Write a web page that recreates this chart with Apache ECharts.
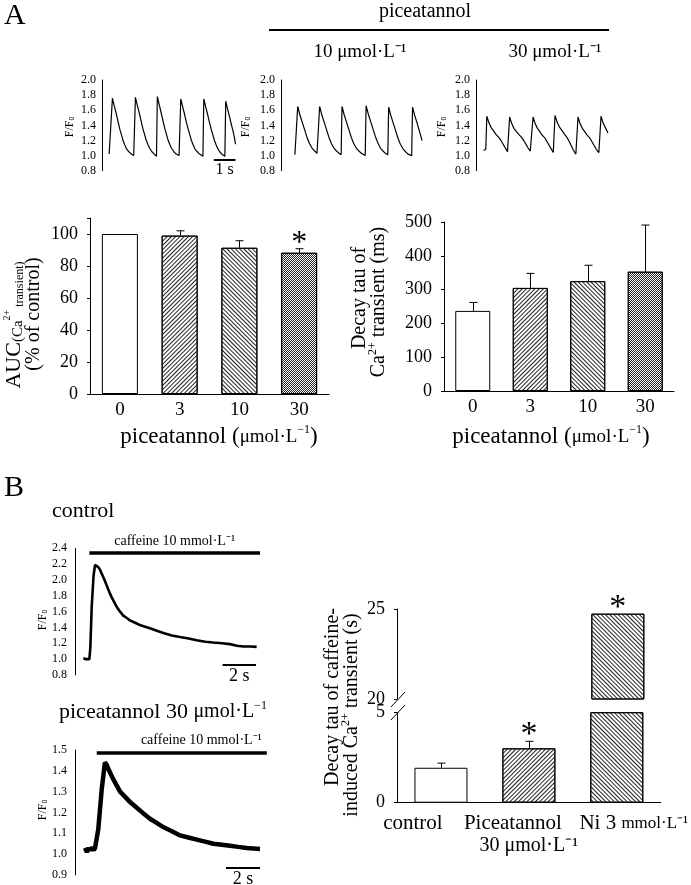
<!DOCTYPE html>
<html>
<head>
<meta charset="utf-8">
<script src="https://cdn.jsdelivr.net/npm/echarts@6/dist/echarts.min.js"></script>
<style>
html, body { margin: 0; padding: 0; background: #fff; }
#chart { width: 691px; height: 885px; }
</style>
</head>
<body>
<div id="chart"></div>
<script>
// spontaneous Ca2+ transients, [time (s) from y axis, F/F0]
var traceCtrl = [[0.33,1.02],[0.37,1.01],[0.42,1.02],
	[0.48,1.76],[0.57,1.65],[0.66,1.55],[0.74,1.45],[0.82,1.35],[0.90,1.27],[0.97,1.20],[1.05,1.14],[1.13,1.09],[1.24,1.05],[1.35,1.02],[1.46,1.00],[1.50,1.00],
	[1.54,1.77],[1.63,1.66],[1.72,1.56],[1.80,1.46],[1.88,1.36],[1.96,1.28],[2.03,1.21],[2.11,1.15],[2.19,1.10],[2.30,1.05],[2.41,1.02],[2.51,0.99],
	[2.55,1.78],[2.64,1.67],[2.73,1.56],[2.81,1.46],[2.89,1.36],[2.97,1.28],[3.04,1.21],[3.12,1.15],[3.20,1.10],[3.31,1.05],[3.42,1.02],[3.55,1.00],[3.59,0.99],
	[3.63,1.75],[3.72,1.64],[3.81,1.54],[3.89,1.44],[3.97,1.35],[4.05,1.27],[4.12,1.20],[4.20,1.14],[4.28,1.09],[4.39,1.05],[4.50,1.02],[4.65,0.99],
	[4.69,1.75],[4.78,1.64],[4.87,1.54],[4.95,1.44],[5.03,1.35],[5.11,1.27],[5.18,1.20],[5.26,1.14],[5.34,1.09],[5.45,1.04],[5.56,1.01],[5.66,0.99],
	[5.70,1.72],[5.79,1.61],[5.88,1.51],[5.96,1.41],[6.04,1.32],[6.10,1.24],[6.15,1.15]];
var trace10 = [[0.64,1.01],[0.70,1.01],[0.73,1.02],
	[0.77,1.65],[0.87,1.54],[0.97,1.45],[1.08,1.35],[1.20,1.24],[1.31,1.16],[1.43,1.10],[1.55,1.06],[1.66,1.03],[1.74,1.01],
	[1.78,1.65],[1.88,1.54],[1.98,1.45],[2.09,1.35],[2.21,1.24],[2.32,1.16],[2.44,1.10],[2.56,1.06],[2.67,1.03],[2.77,1.01],
	[2.81,1.65],[2.91,1.54],[3.01,1.45],[3.12,1.35],[3.24,1.24],[3.35,1.16],[3.47,1.10],[3.59,1.06],[3.70,1.03],[3.88,1.00],
	[3.92,1.66],[4.02,1.55],[4.12,1.46],[4.23,1.36],[4.35,1.25],[4.46,1.17],[4.58,1.10],[4.70,1.06],[4.81,1.03],[4.92,1.01],
	[4.96,1.64],[5.06,1.53],[5.16,1.44],[5.27,1.34],[5.39,1.23],[5.50,1.15],[5.62,1.09],[5.74,1.05],[5.85,1.02],[6.02,1.00],
	[6.06,1.64],[6.16,1.53],[6.26,1.44],[6.37,1.33],[6.50,1.20]];
var trace30 = [[0.34,1.07],[0.40,1.06],[0.45,1.08],
	[0.50,1.52],[0.60,1.43],[0.70,1.37],[0.80,1.33],[0.92,1.28],[1.05,1.24],[1.15,1.20],[1.25,1.15],[1.35,1.10],[1.45,1.05],[1.51,1.04],
	[1.55,1.51],[1.65,1.42],[1.75,1.36],[1.85,1.32],[1.97,1.28],[2.10,1.24],[2.20,1.20],[2.30,1.15],[2.40,1.10],[2.50,1.06],[2.59,1.04],
	[2.63,1.51],[2.73,1.42],[2.83,1.36],[2.93,1.32],[3.05,1.27],[3.18,1.23],[3.28,1.18],[3.38,1.13],[3.48,1.08],[3.56,1.04],[3.60,1.03],
	[3.64,1.53],[3.74,1.44],[3.84,1.38],[3.94,1.34],[4.06,1.29],[4.19,1.24],[4.29,1.19],[4.39,1.13],[4.49,1.07],[4.60,1.02],[4.66,1.02],
	[4.70,1.51],[4.80,1.42],[4.90,1.36],[5.00,1.32],[5.12,1.27],[5.25,1.23],[5.35,1.18],[5.45,1.13],[5.55,1.08],[5.66,1.04],[5.72,1.03],
	[5.76,1.52],[5.86,1.43],[5.96,1.37],[6.08,1.30]];

// AUC and decay tau, piceatannol dose
var doses = ['0', '3', '10', '30'];
var aucMean = [100, 99, 91.4, 88.3];
var aucErr = [0, 3, 4.4, 2.5];
var tauMean = [237, 305, 325, 353];
var tauErr = [25, 43, 47, 138];
var aucSig = [false, false, false, true];

// caffeine-induced transients
var caffCtrl = [[0.50,1.01],[0.58,0.99],[0.66,1.00],[0.76,0.99],[0.86,1.00],[0.92,1.15],[1.00,1.66],[1.11,2.05],[1.20,2.19],[1.30,2.17],[1.40,2.16],[1.50,2.13],[1.60,2.08],[1.75,2.01],[1.90,1.93],[2.05,1.85],[2.20,1.78],[2.35,1.72],[2.50,1.66],[2.70,1.60],[2.89,1.55],[3.10,1.52],[3.29,1.49],[3.60,1.46],[3.89,1.43],[4.20,1.41],[4.49,1.39],[4.90,1.36],[5.29,1.33],[5.80,1.30],[6.29,1.28],[6.80,1.26],[7.29,1.24],[7.80,1.22],[8.28,1.21],[8.80,1.20],[9.28,1.19],[9.70,1.17],[10.08,1.16],[10.50,1.16],[10.88,1.155]];
var caffPic = [[0.59,1.03],[0.70,1.01],[0.80,1.03],[0.88,1.02],[1.00,1.03],[1.10,1.02],[1.18,1.03],[1.37,1.12],[1.57,1.31],[1.76,1.44],[1.86,1.43],[1.96,1.41],[2.10,1.385],[2.25,1.36],[2.45,1.33],[2.65,1.30],[2.95,1.275],[3.24,1.25],[3.53,1.23],[3.82,1.21],[4.10,1.19],[4.41,1.17],[4.80,1.15],[5.19,1.13],[5.70,1.11],[6.18,1.09],[6.67,1.08],[7.16,1.07],[7.65,1.06],[8.14,1.05],[8.63,1.045],[9.12,1.04],[9.60,1.035],[10.10,1.03],[10.88,1.025]];
var caffGroups = ['control', 'Piceatannol 30 μmol·L⁻¹', 'Ni 3 mmol·L⁻¹'];
var caffTau = [1.94, 3.02, 24.74];
var caffErr = [0.26, 0.39, 0];
var caffSig = [false, true, true];

var FONT = 'Liberation Serif';
var chart = echarts.init(document.getElementById('chart'));

var plain = {color: '#fff', borderColor: '#000', borderWidth: 1};
var slash = {color: '#fff', borderColor: '#000', borderWidth: 1,
	decal: {symbol: 'rect', symbolSize: 1, color: '#222', dashArrayX: [1, 0], dashArrayY: [1, 2], rotation: -Math.PI / 4}};
var back = {color: '#fff', borderColor: '#000', borderWidth: 1,
	decal: {symbol: 'rect', symbolSize: 1, color: '#222', dashArrayX: [1, 0], dashArrayY: [1, 2], rotation: Math.PI / 4}};
var check = {color: '#fff', borderColor: '#000', borderWidth: 1,
	decal: {symbol: 'rect', symbolSize: 1, color: '#222', dashArrayX: [[1, 1], [0, 1, 1, 0]], dashArrayY: [1, 0], rotation: 0}};
var aucStyles = [plain, slash, back, check];
var caffStyles = [plain, slash, back];

function traceX(i, max) {
	return {gridIndex: i, type: 'value', min: 0, max: max, show: false};
}
function traceY(i, min, max, step) {
	return {
		gridIndex: i, type: 'value', min: min, max: max, interval: step,
		axisLine: {show: true, lineStyle: {color: '#000', width: 1}},
		axisTick: {show: false}, splitLine: {show: false},
		axisLabel: {fontFamily: FONT, fontSize: 12, color: '#000', margin: 6,
			formatter: function (v) { return v.toFixed(1); }}
	};
}
function catX(i, data, show) {
	return {
		gridIndex: i, type: 'category', data: data, show: show,
		axisLine: {lineStyle: {color: '#000', width: 1}},
		axisTick: {alignWithLabel: true, length: 4, lineStyle: {color: '#000'}},
		axisLabel: {fontFamily: FONT, fontSize: 19, color: '#000', margin: 7, interval: 0}
	};
}
function valY(i, min, max, step, hideAbove) {
	return {
		gridIndex: i, type: 'value', min: min, max: max, interval: step,
		axisLine: {show: true, lineStyle: {color: '#000', width: 1}},
		axisTick: {show: true, length: 3, lineStyle: {color: '#000'}},
		splitLine: {show: false},
		axisLabel: {fontFamily: FONT, fontSize: 18, color: '#000', margin: 12,
			formatter: function (v) { return v > hideAbove ? '' : String(v); }}
	};
}

function errBar(params, api) {
	var lo = api.coord([api.value(0), api.value(1)]);
	var hi = api.coord([api.value(0), api.value(2)]);
	if (api.value(2) <= api.value(1)) return null;
	var x = Math.round(lo[0]) + 0.5;
	return {type: 'group', children: [
		{type: 'line', shape: {x1: x, y1: lo[1], x2: x, y2: hi[1]}, style: {stroke: '#000', lineWidth: 1}},
		{type: 'line', shape: {x1: x - 4, y1: hi[1], x2: x + 4, y2: hi[1]}, style: {stroke: '#000', lineWidth: 1}}
	]};
}
function starMark(size, lift) {
	return function (params, api) {
		var p = api.coord([api.value(0), api.value(1)]);
		return {type: 'text', x: p[0], y: p[1] - lift,
			style: {text: '*', fontFamily: FONT, fontSize: size, fill: '#000', align: 'center', verticalAlign: 'middle'}};
	};
}
function errData(mean, err) {
	return mean.map(function (v, i) { return [i, v, v + err[i]]; });
}
function starData(mean, err, sig) {
	var out = [];
	mean.forEach(function (v, i) { if (sig[i]) out.push([i, v + err[i]]); });
	return out;
}
function scaleBar(x0, x1, y, text, size) {
	return [{coord: [x0, y], lineStyle: {color: '#000', width: 2, type: 'solid'},
		label: {show: true, position: 'insideMiddleBottom', distance: 2, formatter: text,
			fontFamily: FONT, fontSize: size, color: '#000'}}, {coord: [x1, y]}];
}
function caffBar(x0, x1, y, pos) {
	return [{coord: [x0, y], lineStyle: {color: '#000', width: 3.5, type: 'solid'},
		label: {show: true, position: pos, distance: 5, formatter: 'caffeine 10 mmol·L⁻¹',
			fontFamily: FONT, fontSize: 14, color: '#000'}}, {coord: [x1, y]}];
}
function markLines(data) {
	return {silent: true, symbol: ['none', 'none'], animation: false, data: data};
}
function txt(x, y, text, size, extra) {
	var el = {type: 'text', x: x, y: y, silent: true,
		style: {text: text, fontFamily: FONT, fontSize: size, fill: '#000',
			align: 'center', verticalAlign: 'middle', textAlign: 'center', textVerticalAlign: 'middle'}};
	if (extra) {
		if (extra.rotation) el.rotation = extra.rotation;
		if (extra.rich) el.style.rich = extra.rich;
		if (extra.align) { el.style.align = extra.align; el.style.textAlign = extra.align; }
	}
	return el;
}
var V = Math.PI / 2;
var subO = {o: {fontSize: 7, verticalAlign: 'bottom', lineHeight: 10}};
var richCa = {
	a: {fontFamily: FONT, fontSize: 22, lineHeight: 24},
	b: {fontFamily: FONT, fontSize: 15, verticalAlign: 'bottom', lineHeight: 15},
	s: {fontFamily: FONT, fontSize: 10, verticalAlign: 'top', lineHeight: 12},
	t: {fontFamily: FONT, fontSize: 12, verticalAlign: 'bottom', lineHeight: 12}
};
var richName = {
	n: {fontFamily: FONT, fontSize: 23},
	u: {fontFamily: FONT, fontSize: 19},
	s: {fontFamily: FONT, fontSize: 12, verticalAlign: 'top', lineHeight: 26}
};
var richSup = {s: {fontFamily: FONT, fontSize: 12, verticalAlign: 'top', lineHeight: 24}};

var option = {
	animation: false,
	backgroundColor: '#fff',
	textStyle: {fontFamily: FONT},
	grid: [
		{left: 102, top: 80, width: 140, height: 90.7},
		{left: 281, top: 80, width: 145, height: 90.7},
		{left: 476, top: 80, width: 140, height: 90.7},
		{left: 90, top: 218, width: 239, height: 176},
		{left: 444, top: 222, width: 230, height: 169},
		{left: 75, top: 548.3, width: 190, height: 126.7},
		{left: 75, top: 750, width: 194, height: 125},
		{left: 397, top: 712.7, width: 265, height: 90},
		{left: 397, top: 609, width: 265, height: 90}
	],
	xAxis: [
		traceX(0, 6.45), traceX(1, 6.68), traceX(2, 6.45),
		catX(3, doses, true), catX(4, doses, true),
		traceX(5, 11.38), traceX(6, 11.41),
		(function () {
			var ax = catX(7, caffGroups, true);
			ax.axisLabel.margin = 10;
			ax.axisLabel.formatter = function (v, i) {
				if (i === 0) return '{c|control}';
				if (i === 1) return '{p|Piceatannol}\n{q|30 μmol·L⁻¹}';
				return '{n|Ni 3 }{m|mmol·L⁻¹}';
			};
			ax.axisLabel.rich = {
				c: {fontFamily: FONT, fontSize: 21, padding: [0, 56, 0, 0], lineHeight: 22},
				p: {fontFamily: FONT, fontSize: 21, padding: [0, 32, 0, 0], lineHeight: 22},
				q: {fontFamily: FONT, fontSize: 20, lineHeight: 22},
				n: {fontFamily: FONT, fontSize: 21, padding: [0, 0, 0, 34], lineHeight: 22},
				m: {fontFamily: FONT, fontSize: 17, lineHeight: 22}
			};
			return ax;
		})(),
		catX(8, caffGroups, false)
	],
	yAxis: [
		traceY(0, 0.8, 2.0, 0.2), traceY(1, 0.8, 2.0, 0.2), traceY(2, 0.8, 2.0, 0.2),
		valY(3, 0, 110, 20, 100), valY(4, 0, 500, 100, 500),
		(function () { var a = traceY(5, 0.8, 2.4, 0.2); a.axisLabel.margin = 8; return a; })(),
		(function () { var a = traceY(6, 0.9, 1.5, 0.1); a.axisLabel.margin = 8; return a; })(),
		valY(7, 0, 5, 5, 5), valY(8, 20, 25, 5, 25)
	],
	series: [
		{type: 'line', xAxisIndex: 0, yAxisIndex: 0, data: traceCtrl, symbol: 'none',
			lineStyle: {color: '#000', width: 1.2},
			markLine: markLines([scaleBar(5.15, 6.15, 0.943, '1 s', 16)])},
		{type: 'line', xAxisIndex: 1, yAxisIndex: 1, data: trace10, symbol: 'none',
			lineStyle: {color: '#000', width: 1.2}},
		{type: 'line', xAxisIndex: 2, yAxisIndex: 2, data: trace30, symbol: 'none',
			lineStyle: {color: '#000', width: 1.2}},

		{type: 'bar', xAxisIndex: 3, yAxisIndex: 3, barWidth: 36,
			data: aucMean.map(function (v, i) { return {value: v, itemStyle: aucStyles[i]}; })},
		{type: 'custom', xAxisIndex: 3, yAxisIndex: 3, renderItem: errBar, data: errData(aucMean, aucErr), z: 5},
		{type: 'custom', xAxisIndex: 3, yAxisIndex: 3, renderItem: starMark(32, 5), data: starData(aucMean, aucErr, aucSig), z: 5},

		{type: 'bar', xAxisIndex: 4, yAxisIndex: 4, barWidth: 35,
			data: tauMean.map(function (v, i) { return {value: v, itemStyle: aucStyles[i]}; })},
		{type: 'custom', xAxisIndex: 4, yAxisIndex: 4, renderItem: errBar, data: errData(tauMean, tauErr), z: 5},

		{type: 'line', xAxisIndex: 5, yAxisIndex: 5, data: caffCtrl, symbol: 'none',
			lineStyle: {color: '#000', width: 2.6},
			markLine: markLines([caffBar(0.86, 11.08, 2.34, 'insideMiddleTop'), scaleBar(8.84, 10.84, 0.924, '2 s', 18)])},
		{type: 'line', xAxisIndex: 6, yAxisIndex: 6, data: caffPic, symbol: 'none',
			lineStyle: {color: '#000', width: 4.5},
			markLine: markLines([caffBar(1.28, 11.28, 1.488, 'insideEndTop'), scaleBar(8.88, 10.88, 0.933, '2 s', 18)])},

		{type: 'bar', xAxisIndex: 7, yAxisIndex: 7, barWidth: 53,
			data: caffTau.map(function (v, i) { return {value: v, itemStyle: caffStyles[i]}; })},
		{type: 'custom', xAxisIndex: 7, yAxisIndex: 7, renderItem: errBar, data: errData(caffTau, caffErr), z: 5},
		{type: 'custom', xAxisIndex: 7, yAxisIndex: 7, renderItem: starMark(34, 6),
			data: starData(caffTau, caffErr, caffSig).filter(function (d) { return d[1] < 5; }), z: 5},
		{type: 'bar', xAxisIndex: 8, yAxisIndex: 8, barWidth: 53,
			data: caffTau.map(function (v, i) { return v > 20 ? {value: v, itemStyle: caffStyles[i]} : null; })},
		{type: 'custom', xAxisIndex: 8, yAxisIndex: 8, renderItem: starMark(34, 6),
			data: starData(caffTau, caffErr, caffSig).filter(function (d) { return d[1] > 20; }), z: 5}
	],
	graphic: [
		txt(4, 16, 'A', 30, {align: 'left'}),
		txt(425, 12, 'piceatannol', 20),
		{type: 'line', silent: true, shape: {x1: 269, y1: 30, x2: 609, y2: 30}, style: {stroke: '#000', lineWidth: 2}},
		txt(360, 52, '10 μmol·L⁻¹', 19),
		txt(555, 52, '30 μmol·L⁻¹', 19),
		txt(70, 127, 'F/F{o|0}', 12, {rotation: V, rich: subO}),
		txt(246, 127, 'F/F{o|0}', 12, {rotation: V, rich: subO}),
		txt(442, 127, 'F/F{o|0}', 12, {rotation: V, rich: subO}),

		txt(14, 325, '{a|AUC}{b|(Ca}{s|2+}{t| transient)}', 22, {rotation: V, rich: richCa}),
		txt(34, 314, '(% of control)', 20, {rotation: V}),
		txt(219, 437, '{n|piceatannol (}{u|μmol·L}{s|−1}{n|)}', 23, {rich: richName}),
		txt(360, 298, 'Decay tau of', 20, {rotation: V}),
		txt(379, 302, 'Ca{s|2+} transient (ms)', 20, {rotation: V, rich: richSup}),
		txt(551, 437, '{n|piceatannol (}{u|μmol·L}{s|−1}{n|)}', 23, {rich: richName}),

		txt(4, 488, 'B', 30, {align: 'left'}),
		txt(52, 511, 'control', 22, {align: 'left'}),
		txt(43, 620, 'F/F{o|0}', 12, {rotation: V, rich: subO}),
		txt(59, 712, 'piceatannol 30 {u|μmol·L}{s|−1}', 22, {align: 'left', rich: {
			u: {fontFamily: FONT, fontSize: 20}, s: {fontFamily: FONT, fontSize: 12, verticalAlign: 'top', lineHeight: 24}}}),
		txt(43, 810, 'F/F{o|0}', 12, {rotation: V, rich: subO}),

		txt(333, 697, 'Decay tau of caffeine-', 20, {rotation: V}),
		txt(352, 715, 'induced Ca{s|2+} transient (s)', 20, {rotation: V, rich: richSup}),
		{type: 'line', silent: true, shape: {x1: 391, y1: 707, x2: 405, y2: 692}, style: {stroke: '#000', lineWidth: 1}},
		{type: 'line', silent: true, shape: {x1: 391, y1: 720, x2: 405, y2: 705}, style: {stroke: '#000', lineWidth: 1}}
	]
};
chart.setOption(option);
window.addEventListener('resize', chart.resize);
</script>
</body>
</html>
